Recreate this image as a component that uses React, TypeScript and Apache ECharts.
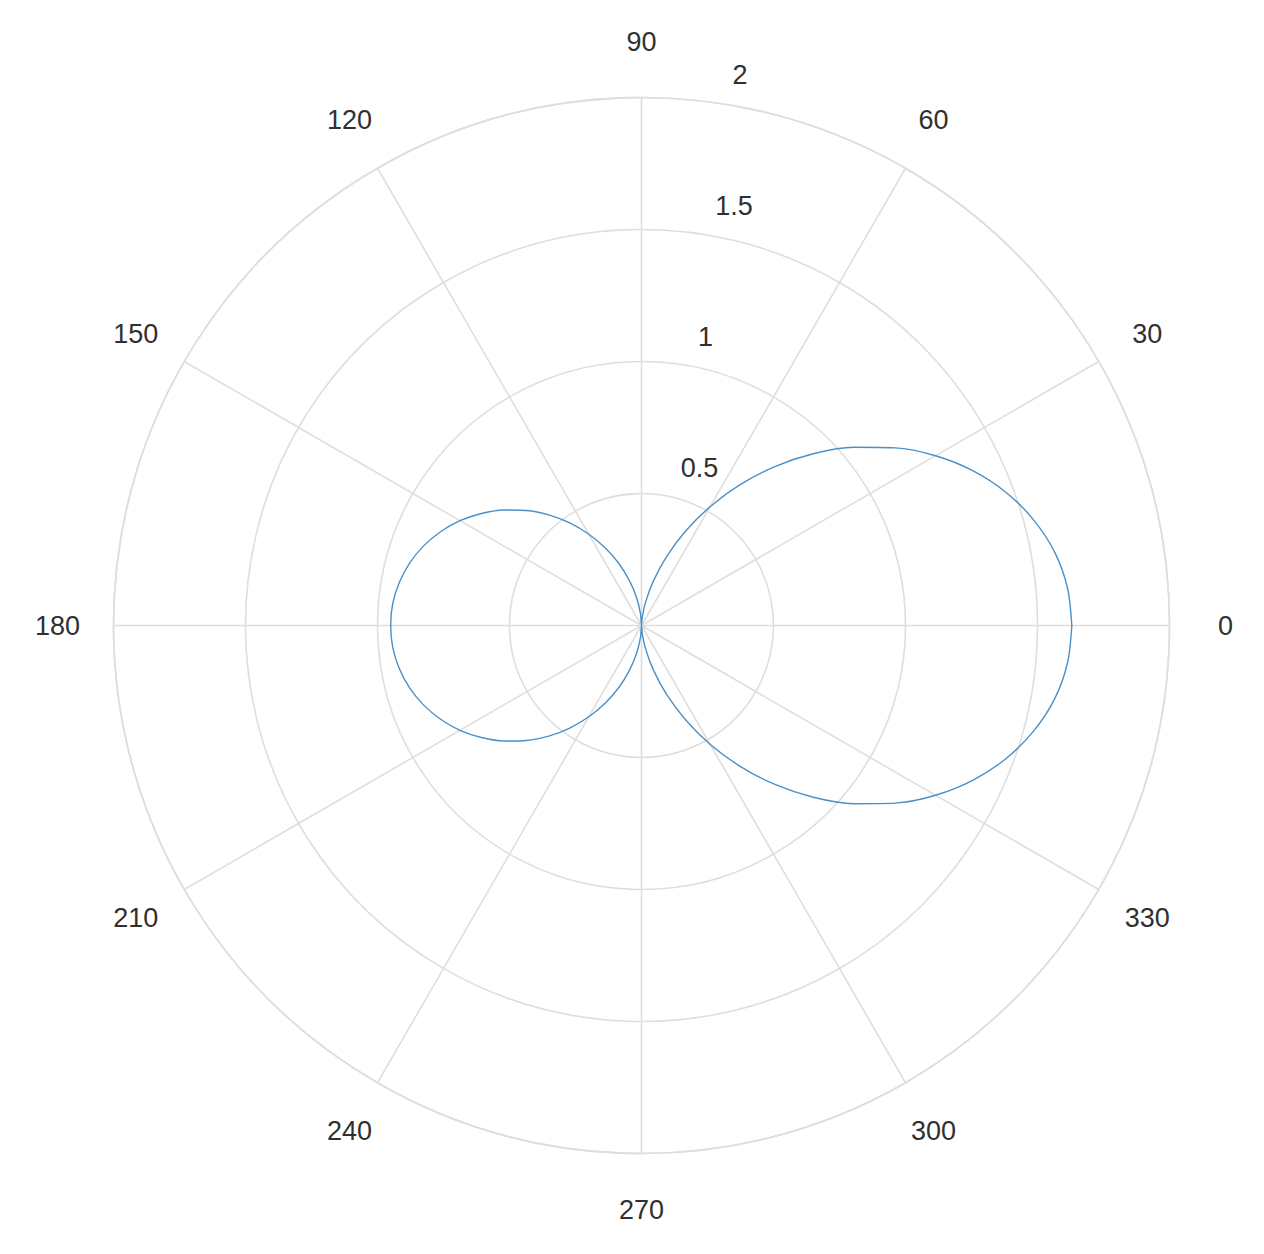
import React, { useEffect, useRef } from "react";
import * as echarts from "echarts";

// Angle (degrees) and radius samples of the curve
const thetaDeg: number[] = [
  0, 5, 10, 15, 20, 25, 30, 35, 40, 45, 50, 55, 60, 65, 70, 75, 80, 85, 90,
  95, 100, 105, 110, 115, 120, 125, 130, 135, 140, 145, 150, 155, 160, 165, 170, 175, 180,
  185, 190, 195, 200, 205, 210, 215, 220, 225, 230, 235, 240, 245, 250, 255, 260, 265, 270,
  275, 280, 285, 290, 295, 300, 305, 310, 315, 320, 325, 330, 335, 340, 345, 350, 355, 360,
];
const rho: number[] = [
  1.63, 1.62, 1.59, 1.539, 1.471, 1.386, 1.286, 1.173, 1.05, 0.92, 0.786, 0.651, 0.519, 0.394, 0.278, 0.175, 0.091, 0.029, 0,
  0.045, 0.107, 0.175, 0.249, 0.324, 0.399, 0.474, 0.547, 0.616, 0.681, 0.74, 0.794, 0.84, 0.879, 0.91, 0.932, 0.946, 0.95,
  0.946, 0.932, 0.91, 0.879, 0.84, 0.794, 0.74, 0.681, 0.616, 0.547, 0.474, 0.399, 0.324, 0.249, 0.175, 0.107, 0.045, 0,
  0.029, 0.091, 0.175, 0.278, 0.394, 0.519, 0.651, 0.786, 0.92, 1.05, 1.173, 1.286, 1.386, 1.471, 1.539, 1.59, 1.62, 1.63,
];

const angleTicks: number[] = [0, 30, 60, 90, 120, 150, 180, 210, 240, 270, 300, 330];
const radiusTicks: number[] = [0.5, 1, 1.5, 2];
const RMAX = 2;

const CX = 641.5;
const CY = 625.5;
const R = 528;
const GRID = "#dedede";
const TEXT = "#303030";
const FONT = '27px "Liberation Sans", Arial, Helvetica, sans-serif';

export default function App() {
  const ref = useRef<HTMLDivElement>(null);
  useEffect(() => {
    document.body.style.margin = "0";
    if (!ref.current) return;
    const chart = echarts.init(ref.current, undefined, { renderer: "svg" });
    const rad = Math.PI / 180;
    const angleLabels = angleTicks.map((a) => ({
      type: "text",
      silent: true,
      x: CX + (R + 56) * Math.cos(a * rad),
      y: CY - (R + 56) * Math.sin(a * rad),
      style: { text: String(a), align: "center", verticalAlign: "middle", font: FONT, fill: TEXT },
    }));
    const la = 82.5 * rad;
    const radiusLabels = radiusTicks.map((v) => ({
      type: "text",
      silent: true,
      x: CX + (v / RMAX) * R * Math.cos(la) + 22,
      y: CY - (v / RMAX) * R * Math.sin(la) - 27,
      style: { text: String(v), align: "left", verticalAlign: "middle", font: FONT, fill: TEXT },
    }));
    chart.setOption({
      animation: false,
      backgroundColor: "#ffffff",
      polar: { center: [CX, CY], radius: R },
      angleAxis: {
        type: "value",
        min: 0,
        max: 360,
        interval: 30,
        startAngle: 0,
        clockwise: false,
        axisLine: { show: true, lineStyle: { color: GRID, width: 1.6 } },
        axisTick: { show: false },
        axisLabel: { show: false },
        splitLine: { show: true, lineStyle: { color: GRID, width: 1.6 } },
      },
      radiusAxis: {
        type: "value",
        min: 0,
        max: RMAX,
        interval: 0.5,
        axisLine: { show: false },
        axisTick: { show: false },
        axisLabel: { show: false },
        splitLine: { show: true, lineStyle: { color: GRID, width: 1.6 } },
      },
      series: [
        {
          type: "line",
          coordinateSystem: "polar",
          data: thetaDeg.map((t, i) => [rho[i], t]),
          showSymbol: false,
          smooth: 0.3,
          lineStyle: { color: "#4a90c8", width: 1.4 },
        },
      ],
      graphic: [...angleLabels, ...radiusLabels],
    });
    return () => chart.dispose();
  }, []);
  return <div ref={ref} style={{ width: 1264, height: 1254 }} />;
}
